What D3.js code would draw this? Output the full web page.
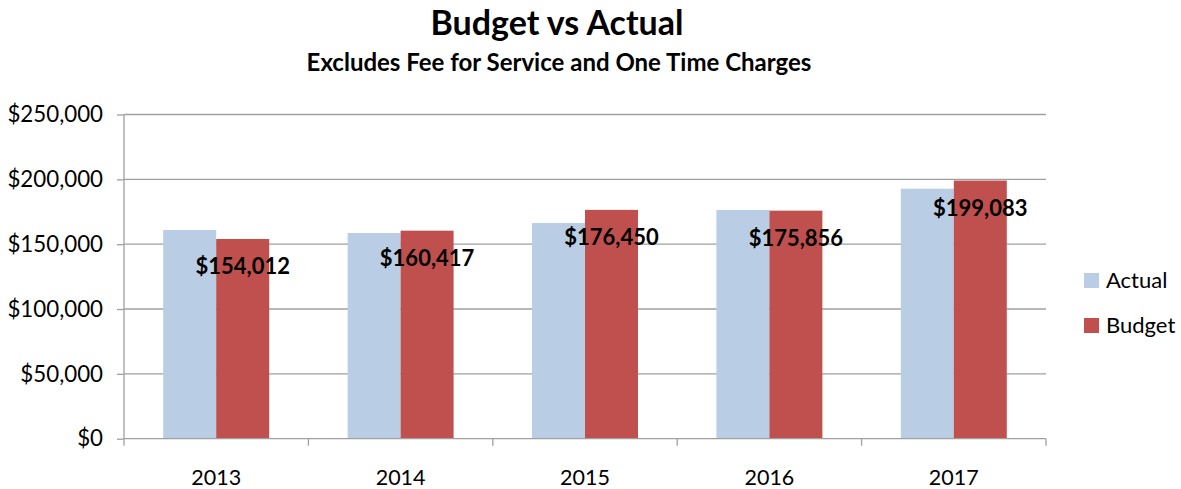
<!DOCTYPE html>
<html>
<head>
<meta charset="UTF-8">
<script src="https://d3js.org/d3.v7.min.js"></script>
<style>
  body { margin: 0; background: #fff; }
  text { font-family: Lato, "Open Sans", sans-serif; }
</style>
</head>
<body>
<script>
// data
const years = ["2013", "2014", "2015", "2016", "2017"];
const seriesNames = ["Actual", "Budget"];
const actual = [160900, 158600, 166300, 176400, 192800];
const budget = [154012, 160417, 176450, 175856, 199083];
const yTicks = [0, 50000, 100000, 150000, 200000, 250000];
const colors = ["#b9cde5", "#c0504d"];

const W = 1181, H = 489;
const margin = {top: 114.5, left: 124, right: 135, bottom: 50.3};
const width = W - margin.left - margin.right;
const height = H - margin.top - margin.bottom;

const svg = d3.select("body").append("svg")
  .attr("width", W).attr("height", H);

// titles
svg.append("text")
  .attr("x", 557).attr("y", 35)
  .attr("text-anchor", "middle")
  .style("font-size", "34px").style("font-weight", "bold")
  .text("Budget vs Actual");
svg.append("text")
  .attr("x", 559).attr("y", 71)
  .attr("text-anchor", "middle")
  .style("font-size", "24px").style("font-weight", "bold")
  .text("Excludes Fee for Service and One Time Charges");

const g = svg.append("g")
  .attr("transform", "translate(" + margin.left + "," + margin.top + ")");

const x = d3.scaleBand().domain(years).range([0, width]).padding(0);
const xs = d3.scaleBand().domain(seriesNames).range([0, x.bandwidth()])
  .paddingInner(0).paddingOuter(0.74);
const y = d3.scaleLinear().domain([0, 250000]).range([height, 0]);

// gridlines
g.append("g")
  .selectAll("line").data(yTicks.slice(1)).enter().append("line")
  .attr("x1", 0).attr("x2", width)
  .attr("y1", d => y(d)).attr("y2", d => y(d))
  .attr("stroke", "#a0a0a0").attr("stroke-width", 1.3);

// y axis
const yAxis = g.append("g")
  .call(d3.axisLeft(y).tickValues(yTicks).tickSize(7).tickPadding(14)
    .tickFormat(d => "$" + d3.format(",")(d)));
yAxis.selectAll("line, path").attr("stroke", "#a0a0a0").attr("stroke-width", 1.3);
yAxis.select(".domain").attr("d", "M0," + height + "V0");
yAxis.selectAll("text")
  .style("font-size", "22.3px").style("font-family", "Lato").attr("fill", "#000");

// bars
const rows = years.map((yr, i) => ({year: yr, values: [actual[i], budget[i]]}));
const grp = g.selectAll(".grp").data(rows).enter().append("g")
  .attr("transform", d => "translate(" + x(d.year) + ",0)");
grp.selectAll("rect")
  .data(d => d.values.map((v, j) => ({name: seriesNames[j], value: v, j: j})))
  .enter().append("rect")
  .attr("x", d => xs(d.name))
  .attr("width", xs.bandwidth())
  .attr("y", d => y(d.value))
  .attr("height", d => height - y(d.value))
  .attr("fill", d => colors[d.j]);

// x axis
const xAxis = g.append("g")
  .attr("transform", "translate(0," + height + ")")
  .call(d3.axisBottom(x).tickSize(0).tickPadding(31.5));
xAxis.select(".domain").attr("stroke", "#a0a0a0").attr("stroke-width", 1.3)
  .attr("d", "M0,0H" + width);
xAxis.selectAll("text")
  .style("font-size", "21.5px").style("font-family", "Lato").attr("fill", "#000");
// category boundary ticks
xAxis.selectAll(".bound").data(years.concat(["end"])).enter().append("line")
  .attr("x1", (d, i) => i * x.step()).attr("x2", (d, i) => i * x.step())
  .attr("y1", 0).attr("y2", 7)
  .attr("stroke", "#a0a0a0").attr("stroke-width", 1.3);

// budget data labels
grp.append("text")
  .attr("x", xs("Budget") + xs.bandwidth() / 2)
  .attr("y", d => y(d.values[1]) + 35)
  .attr("text-anchor", "middle")
  .style("font-size", "22px").style("font-weight", "bold")
  .text(d => "$" + d3.format(",")(d.values[1]));

// legend
const leg = svg.append("g").attr("transform", "translate(1084,273)");
seriesNames.forEach((s, i) => {
  leg.append("rect").attr("x", 0).attr("y", i * 45).attr("width", 15).attr("height", 15)
    .attr("fill", colors[i]);
  leg.append("text").attr("x", 22).attr("y", i * 45 + 15)
    .style("font-size", "22px").text(s);
});
</script>
</body>
</html>
